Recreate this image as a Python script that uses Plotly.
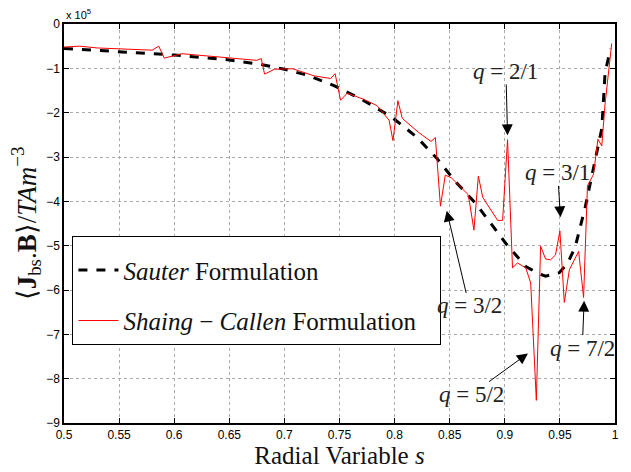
import plotly.graph_objects as go

# Shaing-Callen formulation (red), values in units of 1e5
sc_s = [0.5, 0.514, 0.53, 0.55, 0.565, 0.58, 0.586, 0.591, 0.607, 0.62, 0.64, 0.66, 0.675,
        0.679, 0.682, 0.691, 0.7075, 0.727, 0.742, 0.746, 0.751, 0.757, 0.772, 0.784, 0.795,
        0.7985, 0.803, 0.807, 0.822, 0.833, 0.837, 0.8416, 0.846, 0.8515, 0.8665, 0.868,
        0.872, 0.876, 0.880, 0.8935, 0.898, 0.9025, 0.907, 0.9115, 0.919, 0.9235, 0.9286,
        0.9325, 0.937, 0.9415, 0.946, 0.950, 0.954, 0.9586, 0.967, 0.9715, 0.975, 0.9805,
        0.9845, 0.988, 0.991, 0.997]
sc_v = [-0.52, -0.50, -0.54, -0.56, -0.58, -0.59, -0.50, -0.77, -0.67, -0.70, -0.75, -0.80, -0.82,
        -0.78, -1.13, -1.02, -1.01, -1.17, -1.23, -1.12, -1.72, -1.56, -1.70, -1.84, -2.17,
        -2.63, -1.73, -2.13, -2.45, -2.65, -2.56, -4.11, -3.41, -3.47, -3.84, -4.02,
        -4.65, -3.43, -3.91, -4.43, -4.43, -2.61, -5.50, -5.39, -5.50, -5.84, -8.49,
        -5.01, -5.30, -5.32, -5.21, -4.67, -6.28, -5.54, -5.13, -6.17, -3.65, -3.39,
        -2.60, -2.75, -1.80, -0.44]

# Sauter formulation (black dashed)
sa_s = [0.5, 0.55, 0.6, 0.65, 0.68, 0.7, 0.72, 0.745, 0.77, 0.7975, 0.82, 0.838, 0.855,
        0.874, 0.892, 0.901, 0.919, 0.93, 0.937, 0.9495, 0.957, 0.964, 0.973, 0.982,
        0.988, 0.991, 0.996]
sa_v = [-0.55, -0.62, -0.70, -0.81, -0.92, -1.02, -1.15, -1.39, -1.70, -2.10, -2.55, -3.02, -3.55,
        -4.06, -4.65, -4.95, -5.47, -5.62, -5.69, -5.61, -5.40, -5.02, -4.13, -3.10,
        -2.36, -1.10, -0.55]

x_ticks = [0.5, 0.55, 0.6, 0.65, 0.7, 0.75, 0.8, 0.85, 0.9, 0.95, 1.0]
x_tick_labels = ["0.5", "0.55", "0.6", "0.65", "0.7", "0.75", "0.8", "0.85", "0.9", "0.95", "1"]
y_ticks = [-9, -8, -7, -6, -5, -4, -3, -2, -1, 0]

# annotations: label, tip (s, v), text centre (s, v)
q_labels = ["2/1", "3/1", "3/2", "5/2", "7/2"]
q_tip_s = [0.9025, 0.9505, 0.8473, 0.921, 0.972]
q_tip_v = [-2.51, -4.36, -4.21, -7.43, -6.24]
q_txt_s = [0.901, 0.9480, 0.8677, 0.8695, 0.9703]
q_txt_v = [-1.07, -3.36, -6.36, -8.36, -7.31]

serif = "Liberation Serif"
sans = "Liberation Sans"
pad = "\u00a0\u00a0\u00a0"

fig = go.Figure()
fig.add_trace(go.Scatter(x=sa_s, y=sa_v, mode="lines",
                         line=dict(color="black", width=3, dash="dash"),
                         name="<i>Sauter</i> Formulation", legendgroup="a"))
fig.add_trace(go.Scatter(x=sc_s, y=sc_v, mode="lines",
                         line=dict(color="red", width=1),
                         name="<i>Shaing</i> − <i>Callen</i> Formulation" + pad, legendgroup="b"))

for lab, ts, tv, xs, xv in zip(q_labels, q_tip_s, q_tip_v, q_txt_s, q_txt_v):
    fig.add_annotation(x=ts, y=tv, ax=xs, ay=xv, axref="x", ayref="y",
                       text="<i>q</i> = " + lab, showarrow=True,
                       arrowhead=2, arrowsize=2.2, arrowwidth=1, arrowcolor="black",
                       standoff=0, startstandoff=0, borderpad=0,
                       font=dict(family=serif, size=23, color="#222"))

fig.add_annotation(x=0, y=1, xref="paper", yref="paper", xanchor="left", yanchor="bottom",
                   text="x 10<sup>5</sup>", showarrow=False, yshift=1,
                   font=dict(family=sans, size=11, color="black"))

axis_common = dict(showline=True, linecolor="black", linewidth=1.5, mirror="ticks",
                   ticks="inside", ticklen=5, tickcolor="black",
                   showgrid=True, gridcolor="#aaaaaa", griddash="dot", gridwidth=1,
                   zeroline=False, tickfont=dict(family=sans, size=12, color="black"))

fig.update_layout(
    width=631, height=472,
    margin=dict(l=64, r=12, t=24, b=43),
    paper_bgcolor="white", plot_bgcolor="white",
    xaxis=dict(range=[0.5, 1.0], tickvals=x_ticks, ticktext=x_tick_labels,
               title=dict(text="Radial Variable <i>s</i>", standoff=0,
                          font=dict(family=serif, size=25, color="#111")),
               **axis_common),
    yaxis=dict(range=[-9, 0], tickvals=y_ticks,
               title=dict(text="⟨<b>J</b><sub>bs</sub>.<b>B</b>⟩/<i>TAm</i><sup>−3</sup>",
                          standoff=2, font=dict(family=serif, size=27, color="#111")),
               **axis_common),
    legend=dict(x=0.0153, y=0.469, xanchor="left", yanchor="top",
                bgcolor="white", bordercolor="black", borderwidth=1,
                font=dict(family=serif, size=25, color="#111"),
                itemwidth=40,
                title=dict(text="\u00a0", font=dict(size=8)),
                tracegroupgap=15, traceorder="grouped"),
    showlegend=True,
)

fig.write_html("out.html")
